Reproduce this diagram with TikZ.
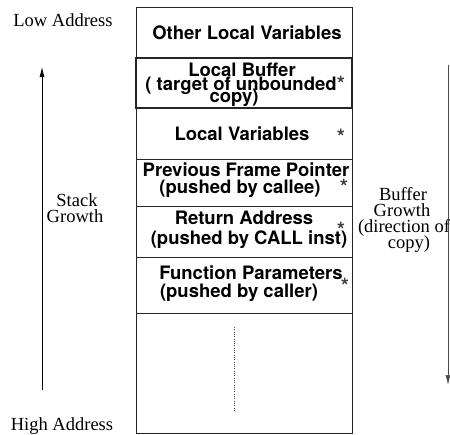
\documentclass[tikz,border=0pt]{standalone}
\usepackage{fontspec}
\newfontfamily\hvfont{TeX Gyre Heros}
\newfontfamily\tmfont{Liberation Serif}
\usetikzlibrary{arrows.meta}
\begin{document}
\begin{tikzpicture}[x=1pt,y=-1pt,
  boxtxt/.style={font=\hvfont\bfseries\fontsize{18.5}{18}\selectfont, inner sep=0pt, anchor=base},
  lbl/.style={font=\tmfont\fontsize{18.5}{18}\selectfont, inner sep=0pt, anchor=base},
  star/.style={font=\hvfont\bfseries\fontsize{21}{21}\selectfont, inner sep=0pt, anchor=north, text=black!75},
  cell/.style={draw=black!85, line width=0.9pt},
  growarrow/.style={line width=0.7pt, -{Latex[length=10pt,width=5pt]}}]
\useasboundingbox (0,0) rectangle (450,434);
% stack frame cells
\draw[cell] (136,7) rectangle (352,433);
\draw[cell] (136,58) -- (352,58);
\draw[cell] (136,159) -- (352,159);
\draw[cell] (136,206) -- (352,206);
\draw[cell] (136,257) -- (352,257);
\draw[cell] (136,313) -- (352,313);
\draw[cell, line width=1.3pt] (136,58) rectangle (352,108);
% cell texts
\node[boxtxt] (olv) at (247,39) {Other Local Variables};
\node[boxtxt] (lb1) at (242,76) {Local Buffer};
\node[boxtxt] (lb2) at (241,90) {( target of unbounded};
\node[boxtxt] (lb3) at (234,102) {copy)};
\node[boxtxt] (lv) at (242,140) {Local Variables};
\node[boxtxt] (pf1) at (246,176) {Previous Frame Pointer};
\node[boxtxt] (pf2) at (240,193) {(pushed by callee)};
\node[boxtxt] (ra1) at (244,224) {Return Address};
\node[boxtxt] (ra2) at (249,244) {(pushed by CALL inst)};
\node[boxtxt] (fp1) at (251,279) {Function Parameters};
\node[boxtxt] (fp2) at (239,297) {(pushed by caller)};
% asterisks
\node[star] (s1) at (341,76) {*};
\node[star] (s2) at (341,129) {*};
\node[star] (s3) at (344,179) {*};
\node[star] (s4) at (341,222) {*};
\node[star] (s5) at (345,278) {*};
% dotted continuation
\coordinate (dtop) at (234,327);
\coordinate (dbot) at (234,410);
\draw[black!70, line width=0.6pt, dash pattern=on 0.7pt off 1.6pt] (dtop) -- (dbot);
% left side
\node[lbl] (low) at (63,26) {Low Address};
\node[lbl] (high) at (62,430) {High Address};
\node[lbl] (sg1) at (77,206) {Stack};
\node[lbl] (sg2) at (75,222) {Growth};
\coordinate (sgbot) at (42,390);
\coordinate (sgtop) at (42,67);
\draw[growarrow] (sgbot) -- (sgtop);
% right side
\node[lbl] (bg1) at (403,200) {Buffer};
\node[lbl] (bg2) at (402,216) {Growth};
\node[lbl] (bg3) at (404,232) {(direction of};
\node[lbl] (bg4) at (409,248) {copy)};
\coordinate (bgtop) at (448,65);
\coordinate (bgbot) at (448,385);
\draw[growarrow, black!70] (bgtop) -- (bgbot);
\end{tikzpicture}
\end{document}
